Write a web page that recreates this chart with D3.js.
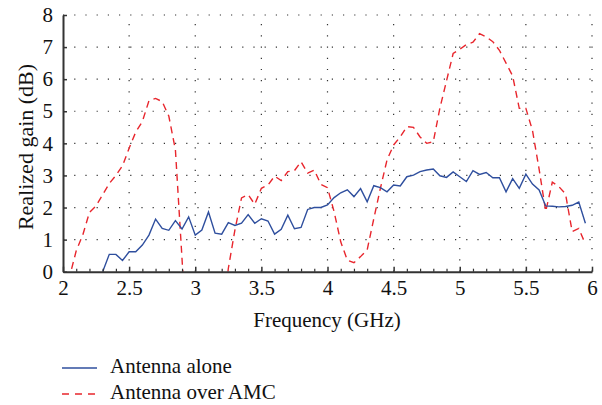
<!DOCTYPE html>
<html>
<head>
<meta charset="utf-8">
<script src="https://cdn.jsdelivr.net/npm/d3@7"></script>
<style>
  body { margin: 0; background: #fff; }
  svg { display: block; }
</style>
</head>
<body>
<div id="chart"></div>
<script>
// frequency samples (GHz)
var freqs = [2.00, 2.05, 2.10, 2.15, 2.20, 2.25, 2.30, 2.35, 2.40, 2.45,
             2.50, 2.55, 2.60, 2.65, 2.70, 2.75, 2.80, 2.85, 2.90, 2.95,
             3.00, 3.05, 3.10, 3.15, 3.20, 3.25, 3.30, 3.35, 3.40, 3.45,
             3.50, 3.55, 3.60, 3.65, 3.70, 3.75, 3.80, 3.85, 3.90, 3.95,
             4.00, 4.05, 4.10, 4.15, 4.20, 4.25, 4.30, 4.35, 4.40, 4.45,
             4.50, 4.55, 4.60, 4.65, 4.70, 4.75, 4.80, 4.85, 4.90, 4.95,
             5.00, 5.05, 5.10, 5.15, 5.20, 5.25, 5.30, 5.35, 5.40, 5.45,
             5.50, 5.55, 5.60, 5.65, 5.70, 5.75, 5.80, 5.85, 5.90, 5.95];

// realized gain (dB), antenna alone -- null where not plotted
var gainAlone = [null, null, null, null, null, null, 0.00, 0.54, 0.54, 0.35,
                 0.62, 0.62, 0.83, 1.14, 1.64, 1.35, 1.29, 1.59, 1.33, 1.71,
                 1.14, 1.30, 1.86, 1.20, 1.17, 1.53, 1.44, 1.51, 1.78, 1.51,
                 1.65, 1.58, 1.17, 1.32, 1.76, 1.34, 1.38, 1.94, 2.00, 2.00,
                 2.08, 2.31, 2.46, 2.55, 2.34, 2.59, 2.18, 2.68, 2.62, 2.49,
                 2.70, 2.67, 2.96, 3.01, 3.12, 3.17, 3.20, 2.99, 2.94, 3.11,
                 2.96, 2.81, 3.15, 3.03, 3.09, 2.93, 2.93, 2.49, 2.90, 2.60,
                 3.04, 2.73, 2.55, 2.05, 2.04, 2.02, 2.03, 2.07, 2.17, 1.51];

// realized gain (dB), antenna over AMC (values below 0 are cut by the axis)
var gainAmc = [-1.00, -0.15, 0.65, 1.15, 1.85, 2.05, 2.40, 2.75, 3.00, 3.30,
               3.85, 4.35, 4.68, 5.33, 5.40, 5.30, 4.85, 3.80, 0.40, -3.00,
               -5.00, -6.00, -6.00, -5.00, -1.80, 0.10, 1.30, 2.30, 2.40, 2.10,
               2.60, 2.70, 2.98, 2.84, 3.12, 3.15, 3.43, 3.07, 3.17, 2.72,
               2.62, 1.87, 0.93, 0.36, 0.28, 0.47, 0.68, 1.65, 2.60, 3.48,
               3.95, 4.20, 4.52, 4.50, 4.20, 4.00, 4.05, 5.10, 5.95, 6.80,
               6.93, 7.08, 7.15, 7.42, 7.32, 7.17, 6.90, 6.50, 6.10, 5.09,
               5.09, 4.40, 3.20, 1.88, 2.79, 2.65, 2.42, 1.25, 1.35, 0.86];

var xTicks = [2, 2.5, 3, 3.5, 4, 4.5, 5, 5.5, 6];
var xMinorTicks = [2.1, 2.2, 2.3, 2.4, 2.6, 2.7, 2.8, 2.9, 3.1, 3.2, 3.3, 3.4,
                   3.6, 3.7, 3.8, 3.9, 4.1, 4.2, 4.3, 4.4, 4.6, 4.7, 4.8, 4.9,
                   5.1, 5.2, 5.3, 5.4, 5.6, 5.7, 5.8, 5.9];
var yTicks = [0, 1, 2, 3, 4, 5, 6, 7, 8];

var seriesNames = ["Antenna alone", "Antenna over AMC"];

var width = 602,
    height = 405,
    margin = { top: 15, right: 10, bottom: 133, left: 63 };

var serif = "'Liberation Serif', 'Times New Roman', serif";
var blue = "#2f4f9e", red = "#e8262d";

var svg = d3.select("#chart").append("svg")
    .attr("width", width)
    .attr("height", height);

var x = d3.scaleLinear().domain([2, 6]).range([margin.left, 592]);
var y = d3.scaleLinear().domain([0, 8]).range([271.7, margin.top]);

// dotted grid
svg.append("g")
    .selectAll("line")
    .data(yTicks.slice(1))
    .enter().append("line")
    .attr("x1", x(2)).attr("x2", x(6))
    .attr("y1", d => y(d)).attr("y2", d => y(d))
    .attr("stroke", "#333")
    .attr("stroke-width", 1.2)
    .attr("stroke-dasharray", "1.2,10");

svg.append("g")
    .selectAll("line")
    .data(xTicks.slice(1))
    .enter().append("line")
    .attr("x1", d => x(d)).attr("x2", d => x(d))
    .attr("y1", y(0)).attr("y2", y(8))
    .attr("stroke", "#333")
    .attr("stroke-width", 1.2)
    .attr("stroke-dasharray", "1.2,10");

// clip for the data lines
svg.append("clipPath").attr("id", "plotClip")
    .append("rect")
    .attr("x", x(2)).attr("y", y(8) - 2)
    .attr("width", x(6) - x(2)).attr("height", y(0) - y(8) + 2);

var rows = freqs.map(function (f, i) {
    return { f: f, alone: gainAlone[i], amc: gainAmc[i] };
});

var lineAlone = d3.line()
    .defined(d => d.alone !== null)
    .x(d => x(d.f))
    .y(d => y(d.alone));

var lineAmc = d3.line()
    .x(d => x(d.f))
    .y(d => y(d.amc));

var plot = svg.append("g").attr("clip-path", "url(#plotClip)");

plot.append("path")
    .datum(rows)
    .attr("d", lineAmc)
    .attr("fill", "none")
    .attr("stroke", red)
    .attr("stroke-width", 1.4)
    .attr("stroke-dasharray", "7,5");

plot.append("path")
    .datum(rows)
    .attr("d", lineAlone)
    .attr("fill", "none")
    .attr("stroke", blue)
    .attr("stroke-width", 1.4);

// minor ticks on the x axis
svg.append("g")
    .attr("transform", "translate(0," + y(0) + ")")
    .call(d3.axisBottom(x).tickValues(xMinorTicks).tickFormat("")
        .tickSizeInner(-3).tickSizeOuter(0))
    .call(g => g.select(".domain").remove())
    .selectAll(".tick line").attr("stroke", "#333").attr("stroke-width", 1.2);

// axes
var xAxis = svg.append("g")
    .attr("transform", "translate(0," + y(0) + ")")
    .call(d3.axisBottom(x).tickValues(xTicks).tickFormat(d => d)
        .tickSizeInner(-5).tickSizeOuter(0).tickPadding(8));

var yAxis = svg.append("g")
    .attr("transform", "translate(" + x(2) + ",0)")
    .call(d3.axisLeft(y).tickValues(yTicks).tickFormat(d => d)
        .tickSizeInner(-4).tickSizeOuter(0).tickPadding(10));

[xAxis, yAxis].forEach(function (ax) {
    ax.select(".domain").attr("stroke", "#333").attr("stroke-width", 2);
    ax.selectAll(".tick line").attr("stroke", "#333").attr("stroke-width", 1.5);
    ax.selectAll(".tick text")
        .style("font-family", serif)
        .style("font-size", "21px")
        .attr("fill", "#111");
});

// axis titles
svg.append("text")
    .attr("x", 327)
    .attr("y", 327)
    .attr("text-anchor", "middle")
    .style("font-family", serif)
    .style("font-size", "21px")
    .attr("fill", "#111")
    .text("Frequency (GHz)");

svg.append("text")
    .attr("transform", "translate(33," + 147 + ") rotate(-90)")
    .attr("text-anchor", "middle")
    .style("font-family", serif)
    .style("font-size", "22px")
    .attr("fill", "#111")
    .text("Realized gain (dB)");

// legend
var legend = svg.append("g");
var legendLineY = [368, 394];
var legendTextY = [373, 399];

legend.selectAll("line")
    .data(seriesNames)
    .enter().append("line")
    .attr("x1", 62).attr("x2", 97)
    .attr("y1", (d, i) => legendLineY[i]).attr("y2", (d, i) => legendLineY[i])
    .attr("stroke", (d, i) => i === 0 ? blue : red)
    .attr("stroke-width", 1.4)
    .attr("stroke-dasharray", (d, i) => i === 0 ? null : "7,6");

legend.selectAll("text")
    .data(seriesNames)
    .enter().append("text")
    .attr("x", 110)
    .attr("y", (d, i) => legendTextY[i])
    .style("font-family", serif)
    .style("font-size", "21px")
    .attr("fill", "#111")
    .text(d => d);
</script>
</body>
</html>
